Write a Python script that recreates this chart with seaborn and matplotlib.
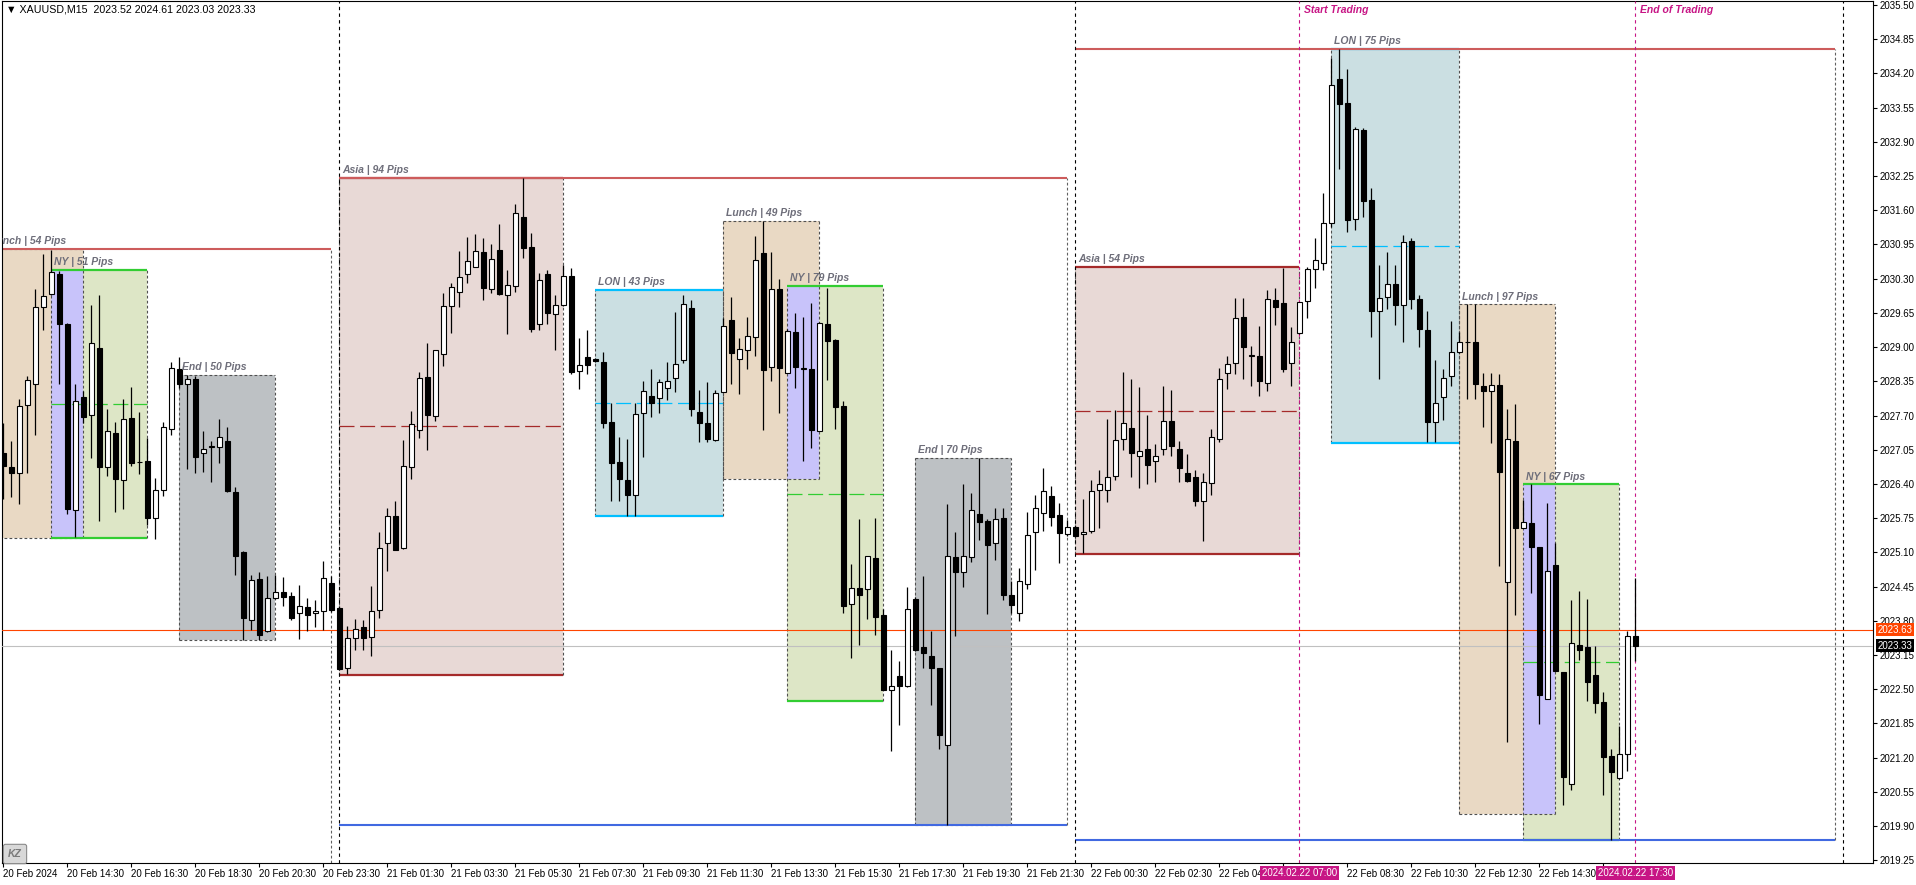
import numpy as np
import pandas as pd
import matplotlib
matplotlib.use('Agg')
import matplotlib.pyplot as plt
import matplotlib.transforms as mtransforms
from matplotlib.patches import Rectangle
import seaborn as sns

# M15 bars, gold has a daily break 22:00-23:00 server time
times = pd.date_range('2024-02-20 12:30', '2024-02-22 17:30', freq='15min')
times = times[times.hour != 22]

open_ = [
    2026.99, 2026.73, 2026.61, 2027.90, 2028.30, 2029.77, 2030.00, 2030.39, 2029.43, 2025.91,
    2028.05, 2027.71, 2028.99, 2026.72, 2027.36, 2026.48, 2027.65, 2026.81, 2026.84, 2025.76,
    2026.29, 2027.45, 2028.58, 2028.30, 2028.39, 2026.98, 2027.10, 2027.10, 2027.21, 2026.25,
    2025.11, 2023.81, 2024.59, 2023.60, 2024.23, 2024.35, 2024.27, 2023.94, 2024.06, 2023.94,
    2023.98, 2024.51, 2024.04, 2022.91, 2023.47, 2023.68, 2023.49, 2024.01, 2025.27, 2025.80,
    2025.18, 2026.73, 2027.43, 2028.44, 2027.70, 2028.87, 2029.78, 2030.05, 2030.39, 2030.53,
    2030.81, 2030.11, 2030.85, 2029.99, 2030.16, 2031.48, 2030.90, 2029.44, 2030.39, 2029.63,
    2029.80, 2030.35, 2028.54, 2028.81, 2028.78, 2028.72, 2027.57, 2026.81, 2026.48, 2026.19,
    2027.74, 2028.07, 2028.04, 2028.22, 2028.41, 2028.76, 2029.74, 2027.77, 2027.55, 2027.23,
    2028.15, 2029.51, 2028.78, 2028.94, 2029.20, 2030.78, 2028.63, 2030.11, 2028.51, 2029.28,
    2028.59, 2028.58, 2027.40, 2029.43, 2029.14, 2027.89, 2024.12, 2024.43, 2024.40, 2025.00,
    2023.91, 2022.49, 2022.75, 2022.56, 2024.21, 2023.31, 2023.14, 2022.90, 2021.44, 2025.02,
    2024.73, 2025.02, 2025.82, 2025.70, 2025.27, 2025.76, 2024.30, 2023.95, 2024.50, 2025.49,
    2025.84, 2026.17, 2025.81, 2025.44, 2025.58, 2025.44, 2025.51, 2026.29, 2026.29, 2026.56,
    2027.26, 2027.46, 2026.94, 2027.06, 2026.83, 2027.07, 2027.59, 2027.07, 2026.60, 2026.53,
    2026.07, 2026.41, 2027.26, 2028.50, 2028.69, 2029.57, 2028.84, 2028.83, 2028.31, 2029.89,
    2029.83, 2028.69, 2029.26, 2029.87, 2030.49, 2030.60, 2031.35, 2034.10, 2033.63, 2031.44,
    2033.12, 2031.79, 2029.69, 2029.95, 2030.20, 2029.79, 2031.02, 2029.91, 2029.32, 2027.58,
    2028.05, 2028.46, 2028.90, 2029.09, 2029.09, 2028.26, 2028.17, 2028.28, 2024.54, 2027.22,
    2025.57, 2025.65, 2025.20, 2022.32, 2024.87, 2022.82, 2020.71, 2023.35, 2023.31, 2022.77,
    2022.26, 2021.24, 2020.81, 2021.27, 2023.52,
]
high = [
    2027.55, 2027.22, 2028.02, 2028.46, 2030.11, 2030.76, 2030.85, 2030.45, 2029.45, 2028.29,
    2028.16, 2029.80, 2029.99, 2027.83, 2027.58, 2028.01, 2028.24, 2027.76, 2027.28, 2026.51,
    2027.57, 2028.71, 2028.82, 2028.47, 2028.46, 2027.40, 2027.21, 2027.63, 2027.49, 2026.35,
    2025.12, 2024.67, 2024.73, 2024.65, 2024.67, 2024.63, 2024.34, 2024.48, 2024.23, 2024.19,
    2024.93, 2024.66, 2024.09, 2023.70, 2023.83, 2023.82, 2024.46, 2025.48, 2025.95, 2026.07,
    2027.23, 2027.78, 2028.52, 2029.07, 2028.95, 2030.03, 2030.22, 2030.83, 2031.10, 2031.15,
    2031.08, 2030.96, 2031.34, 2030.47, 2031.71, 2032.21, 2031.17, 2030.41, 2030.47, 2029.99,
    2030.55, 2030.51, 2029.17, 2029.33, 2028.79, 2028.91, 2027.93, 2027.30, 2027.25, 2027.93,
    2028.35, 2028.58, 2028.39, 2028.72, 2029.67, 2029.99, 2029.90, 2028.18, 2028.34, 2028.18,
    2029.55, 2029.96, 2029.17, 2029.57, 2031.11, 2031.39, 2030.80, 2030.29, 2029.35, 2029.64,
    2029.57, 2029.84, 2029.47, 2030.13, 2029.15, 2027.97, 2024.88, 2025.74, 2025.04, 2025.75,
    2024.03, 2023.24, 2023.03, 2024.44, 2024.26, 2024.65, 2023.60, 2022.91, 2026.01, 2025.48,
    2026.39, 2026.23, 2026.89, 2025.73, 2025.94, 2025.95, 2024.55, 2024.80, 2025.87, 2026.19,
    2026.70, 2026.36, 2026.03, 2025.71, 2025.62, 2026.12, 2026.48, 2026.66, 2027.63, 2027.81,
    2028.52, 2028.40, 2028.24, 2027.71, 2027.16, 2028.26, 2028.18, 2027.21, 2026.96, 2026.66,
    2026.60, 2027.44, 2028.60, 2028.83, 2029.94, 2029.94, 2029.03, 2029.40, 2030.09, 2030.12,
    2030.50, 2029.38, 2029.86, 2030.52, 2031.07, 2031.93, 2034.49, 2034.66, 2034.29, 2033.19,
    2033.16, 2032.02, 2030.55, 2030.80, 2030.56, 2031.12, 2031.08, 2029.98, 2029.68, 2028.76,
    2028.58, 2029.50, 2029.28, 2029.81, 2029.81, 2028.51, 2028.51, 2028.49, 2027.82, 2027.92,
    2026.10, 2026.39, 2025.21, 2026.03, 2025.27, 2022.83, 2024.20, 2024.37, 2024.22, 2023.33,
    2022.44, 2021.37, 2021.80, 2023.60, 2024.61,
]
low = [
    2026.12, 2026.16, 2026.02, 2026.60, 2027.33, 2029.32, 2029.98, 2028.29, 2025.82, 2025.39,
    2027.55, 2026.90, 2025.70, 2026.56, 2025.87, 2025.92, 2026.75, 2026.58, 2025.62, 2025.36,
    2026.18, 2027.33, 2028.22, 2026.69, 2026.61, 2026.63, 2026.44, 2026.79, 2026.25, 2024.67,
    2023.43, 2023.63, 2023.43, 2023.58, 2024.21, 2024.08, 2023.81, 2023.45, 2023.60, 2023.68,
    2023.63, 2023.97, 2022.86, 2022.79, 2023.24, 2023.24, 2023.13, 2023.85, 2024.75, 2025.14,
    2025.16, 2026.50, 2027.28, 2027.04, 2027.59, 2028.65, 2029.26, 2029.76, 2030.21, 2030.52,
    2029.90, 2030.03, 2029.98, 2029.24, 2030.04, 2030.69, 2029.29, 2029.32, 2029.43, 2028.94,
    2029.78, 2028.49, 2028.20, 2028.48, 2028.71, 2027.46, 2026.07, 2026.07, 2025.80, 2025.80,
    2026.92, 2027.68, 2027.75, 2028.00, 2028.15, 2028.70, 2027.69, 2027.20, 2027.20, 2027.22,
    2028.14, 2028.29, 2028.11, 2028.58, 2028.84, 2027.43, 2028.35, 2027.75, 2028.50, 2028.22,
    2026.83, 2027.08, 2027.40, 2028.37, 2027.45, 2023.95, 2023.10, 2023.35, 2023.84, 2023.54,
    2022.48, 2021.33, 2021.82, 2022.55, 2023.23, 2022.90, 2022.21, 2021.37, 2019.92, 2023.51,
    2024.44, 2024.91, 2025.33, 2023.93, 2024.96, 2024.20, 2023.95, 2023.80, 2024.40, 2024.76,
    2025.51, 2025.60, 2024.89, 2025.42, 2025.39, 2025.09, 2025.47, 2025.57, 2026.06, 2026.48,
    2027.04, 2026.53, 2026.33, 2026.39, 2026.44, 2026.95, 2026.93, 2026.44, 2026.44, 2025.99,
    2025.32, 2026.19, 2027.19, 2028.21, 2028.49, 2028.40, 2028.26, 2028.07, 2028.17, 2029.42,
    2028.53, 2028.26, 2029.24, 2029.56, 2030.12, 2030.46, 2031.29, 2032.39, 2031.19, 2031.23,
    2031.47, 2029.19, 2028.40, 2029.72, 2029.42, 2029.10, 2029.72, 2029.00, 2027.19, 2027.19,
    2027.61, 2028.26, 2028.88, 2028.01, 2028.01, 2027.49, 2027.17, 2024.84, 2021.50, 2023.91,
    2025.56, 2024.33, 2021.84, 2022.31, 2022.84, 2020.31, 2020.59, 2023.05, 2022.27, 2022.04,
    2020.50, 2019.63, 2020.80, 2020.94, 2023.03,
]
close = [
    2026.75, 2026.60, 2027.89, 2028.37, 2029.77, 2029.97, 2030.42, 2029.43, 2025.93, 2027.97,
    2027.68, 2029.08, 2026.73, 2027.40, 2026.50, 2027.64, 2026.80, 2026.81, 2025.76, 2026.29,
    2027.49, 2028.61, 2028.30, 2028.40, 2026.92, 2027.07, 2027.10, 2027.30, 2026.26, 2025.03,
    2023.86, 2024.57, 2023.54, 2024.23, 2024.35, 2024.25, 2023.85, 2024.08, 2023.91, 2023.98,
    2024.61, 2024.00, 2022.89, 2023.47, 2023.65, 2023.47, 2023.99, 2025.18, 2025.80, 2025.15,
    2026.75, 2027.53, 2028.42, 2027.71, 2028.94, 2029.78, 2030.14, 2030.34, 2030.64, 2030.83,
    2030.12, 2030.68, 2030.01, 2030.18, 2031.54, 2030.89, 2029.34, 2030.28, 2029.65, 2029.80,
    2030.35, 2028.52, 2028.66, 2028.66, 2028.73, 2027.56, 2026.80, 2026.50, 2026.19, 2027.72,
    2028.17, 2027.93, 2028.34, 2028.35, 2028.68, 2029.82, 2027.83, 2027.56, 2027.25, 2028.13,
    2029.41, 2028.88, 2028.97, 2029.22, 2030.66, 2028.56, 2030.10, 2028.60, 2029.30, 2028.62,
    2028.59, 2027.42, 2029.45, 2029.12, 2027.86, 2024.08, 2024.42, 2024.30, 2025.03, 2023.87,
    2022.49, 2022.56, 2022.56, 2024.03, 2023.24, 2023.19, 2022.90, 2021.64, 2025.03, 2024.73,
    2025.03, 2025.90, 2025.67, 2025.24, 2025.73, 2024.29, 2024.10, 2024.55, 2025.43, 2025.95,
    2026.26, 2025.77, 2025.46, 2025.58, 2025.42, 2025.48, 2026.26, 2026.39, 2026.54, 2027.23,
    2027.55, 2026.99, 2027.03, 2026.76, 2026.94, 2027.59, 2027.12, 2026.71, 2026.46, 2026.08,
    2026.43, 2027.30, 2028.40, 2028.67, 2029.56, 2029.00, 2028.84, 2028.36, 2029.92, 2029.76,
    2028.59, 2029.09, 2029.85, 2030.49, 2030.66, 2031.35, 2033.97, 2033.61, 2031.41, 2033.14,
    2031.77, 2029.68, 2029.93, 2030.20, 2029.79, 2031.00, 2029.91, 2029.34, 2027.58, 2027.94,
    2028.41, 2028.91, 2029.09, 2029.09, 2028.30, 2028.17, 2028.28, 2026.62, 2027.25, 2025.57,
    2025.68, 2025.20, 2022.39, 2024.75, 2022.85, 2020.83, 2023.37, 2023.25, 2022.64, 2022.23,
    2021.21, 2020.92, 2021.27, 2023.52, 2023.33,
]

# session boxes
session_names = ['Lunch', 'NY', 'End', 'Asia', 'LON', 'Lunch', 'NY', 'End', 'Asia', 'LON', 'Lunch', 'NY']
session_start = ['2024-02-20 12:00', '2024-02-20 14:00', '2024-02-20 18:00', '2024-02-21 00:00',
                 '2024-02-21 08:00', '2024-02-21 12:00', '2024-02-21 14:00', '2024-02-21 18:00',
                 '2024-02-22 00:00', '2024-02-22 08:00', '2024-02-22 12:00', '2024-02-22 14:00']
session_end = ['2024-02-20 15:00', '2024-02-20 17:00', '2024-02-20 21:00', '2024-02-21 07:00',
               '2024-02-21 12:00', '2024-02-21 15:00', '2024-02-21 17:00', '2024-02-21 21:00',
               '2024-02-22 07:00', '2024-02-22 12:00', '2024-02-22 15:00', '2024-02-22 17:00']
session_high = [2030.87, 2030.47, 2028.47, 2032.22, 2030.09, 2031.39, 2030.16, 2026.89, 2030.52, 2034.66, 2029.81, 2026.39]
session_low = [2025.37, 2025.38, 2023.43, 2022.78, 2025.80, 2026.49, 2022.27, 2019.92, 2025.07, 2027.17, 2020.13, 2019.63]
session_pips = [54, 51, 50, 94, 43, 49, 79, 70, 54, 75, 97, 67]

# daily high / low levels
day_start = ['2024-02-20 00:00', '2024-02-21 00:00', '2024-02-22 00:00']
day_last = ['2024-02-20 23:45', '2024-02-21 23:45', '2024-02-22 23:45']
day_high = [2030.87, 2032.22, 2034.66]
day_low = [np.nan, 2019.92, 2019.63]
separators = ['2024-02-21 00:00', '2024-02-22 00:00', '2024-02-23 00:00']

trade_start = '2024-02-22 07:00'
trade_end = '2024-02-22 17:30'
level_line = 2023.63
bid = 2023.33
header = '\u25bc XAUUSD,M15  2023.52 2024.61 2023.03 2023.33'

sns.set_theme(style='white')
plt.rcParams['font.family'] = ['Liberation Sans', 'DejaVu Sans']
plt.rcParams['axes.edgecolor'] = 'black'
plt.rcParams['axes.linewidth'] = 0.8

STEP = pd.Timedelta('15min')


def bar_x(t):
    t = pd.Timestamp(t)
    if t < times[0]:
        return (t - times[0]) / STEP
    if t > times[-1]:
        return len(times) - 1 + (t - times[-1]) / STEP
    return times.get_loc(t)


styles = {
    'Asia': dict(fill='#e8d9d6', line='#a52a2a'),
    'LON': dict(fill='#cbdfe2', line='#00bfff'),
    'Lunch': dict(fill='#e9d9c4', line=None),
    'NY': dict(fill='#dde6c6', line='#32cd32'),
    'End': dict(fill='#bdc1c4', line=None),
}
EDGE = '#505050'
DASH = (0, (2.5, 2))

fig = plt.figure(figsize=(19.16, 8.85), dpi=100)
ax = fig.add_axes([2 / 1916, 22 / 885, 1871 / 1916, 862 / 885])
ax.set_xlim(-0.16, 233.7)
ax.set_ylim(2019.20, 2035.574)

# box fills
boxes = []
for name, s, e, hi, lo, p in zip(session_names, session_start, session_end,
                                 session_high, session_low, session_pips):
    x0, x1 = bar_x(s), bar_x(e)
    boxes.append((name, x0, x1, hi, lo, p, pd.Timestamp(s).date()))
    ax.add_patch(Rectangle((x0, lo), x1 - x0, hi - lo, facecolor=styles[name]['fill'],
                           edgecolor='none', zorder=1))

# Lunch / NY overlap
for name, x0, x1, hi, lo, p, d in boxes:
    if name != 'NY':
        continue
    for n2, a0, a1, h2, l2, p2, d2 in boxes:
        if n2 == 'Lunch' and d2 == d:
            ax.add_patch(Rectangle((x0, max(lo, l2)), a1 - x0, min(hi, h2) - max(lo, l2),
                                   facecolor='#c8c3fa', edgecolor='none', zorder=1.1))

trans_lbl = ax.transData + mtransforms.ScaledTranslation(2 / 72, 2 / 72, fig.dpi_scale_trans)
for name, x0, x1, hi, lo, p, d in boxes:
    line = styles[name]['line']
    ax.vlines([x0, x1], lo, hi, colors=EDGE, lw=0.8, linestyles=DASH, zorder=2)
    if line:
        ax.hlines([hi, lo], x0, x1, colors=line, lw=1.6, zorder=2.2)
        ax.hlines((hi + lo) / 2, x0, x1, colors=line, lw=0.9, linestyles=(0, (12, 4.5)), zorder=2)
    else:
        ax.hlines([hi, lo], x0, x1, colors=EDGE, lw=0.8, linestyles=DASH, zorder=2)
    ax.text(x0, hi, f'{name} | {p} Pips', transform=trans_lbl, fontsize=7.5,
            fontweight='bold', style='italic', color='#6e6e7a', ha='left', va='bottom',
            clip_on=True, zorder=6)

# day high / low
y_bottom = ax.get_ylim()[0]
for s, e, hi, lo in zip(day_start, day_last, day_high, day_low):
    xs, xe = bar_x(s), bar_x(e)
    ax.hlines(hi, xs, xe, colors='#cd5c5c', lw=1.5, zorder=2.5)
    if not np.isnan(lo):
        ax.hlines(lo, xs, xe, colors='#4169e1', lw=1.5, zorder=2.5)
    ax.vlines(xe, y_bottom if np.isnan(lo) else lo, hi, colors='#606060', lw=0.8,
              linestyles=DASH, zorder=2.5)

for t in separators:
    ax.axvline(bar_x(t), color='black', lw=0.8, ls=(0, (3, 3)), zorder=2.5)

trans_top = ax.transData + mtransforms.ScaledTranslation(3 / 72, -3 / 72, fig.dpi_scale_trans)
for t, lbl in [(trade_start, 'Start Trading'), (trade_end, 'End of Trading')]:
    xt = bar_x(t)
    ax.axvline(xt, color='#c71585', lw=0.8, ls=(0, (3, 3)), zorder=2.6)
    ax.text(xt, ax.get_ylim()[1], lbl, transform=trans_top, fontsize=7.5, fontweight='bold',
            style='italic', color='#c71585', ha='left', va='top', zorder=6)

ax.axhline(level_line, color='#ff4500', lw=0.8, zorder=2.8)
ax.axhline(bid, color='#c0c0c0', lw=0.8, zorder=2.8)

# candles
o = np.array(open_)
c = np.array(close)
x = np.arange(len(times))
bull = c >= o
ax.vlines(x, low, high, colors='black', lw=0.9, zorder=3)
ax.bar(x, np.maximum(np.abs(c - o), 0.015), bottom=np.minimum(o, c), width=0.62,
       color=np.where(bull, 'white', 'black'), edgecolor='black', linewidth=0.8, zorder=4)

# axes / ticks
ax.yaxis.tick_right()
yt = np.round(np.arange(2019.25, 2035.51, 0.65), 2)
ax.set_yticks(yt)
ax.set_yticklabels([f'{v:.2f}' for v in yt])
ax.tick_params(axis='y', direction='out', length=3, width=0.8, labelsize=7, pad=2,
               colors='black', right=True, left=False)

# time labels hidden under the highlighted trading-time tags are left blank
hl_x = [bar_x(trade_start), bar_x(trade_end)]
tick_idx = list(range(0, len(times), 8))
tick_lbl = []
for i in tick_idx:
    if any(abs(i - h) < 5 for h in hl_x):
        tick_lbl.append('')
    elif i == 0:
        tick_lbl.append(times[i].strftime('%d %b %Y'))
    else:
        tick_lbl.append(times[i].strftime('%d %b %H:%M'))
ax.set_xticks(tick_idx)
ax.set_xticklabels(tick_lbl, ha='left')
ax.tick_params(axis='x', direction='out', length=3, width=0.8, labelsize=7, pad=1,
               colors='black', bottom=True)
for sp in ax.spines.values():
    sp.set_visible(True)
    sp.set_color('black')
    sp.set_linewidth(0.8)

# price tags on the right scale
for val, bg in [(level_line, '#ff4500'), (bid, 'black')]:
    ax.annotate(f'{val:.2f}', xy=(1, val), xycoords=('axes fraction', 'data'), xytext=(3, 0),
                textcoords='offset points', ha='left', va='center', fontsize=7, color='white',
                bbox=dict(boxstyle='square,pad=0.15', fc=bg, ec='none'),
                annotation_clip=False, zorder=10)

# highlighted time labels
for t in [trade_start, trade_end]:
    ax.annotate(pd.Timestamp(t).strftime('%Y.%m.%d %H:%M'), xy=(bar_x(t), 0),
                xycoords=('data', 'axes fraction'), xytext=(0, -7), textcoords='offset points',
                ha='center', va='center', fontsize=7, color='white',
                bbox=dict(boxstyle='square,pad=0.2', fc='#c71585', ec='none'),
                annotation_clip=False, zorder=10)

fig.text(6 / 1916, 1 - 9 / 885, header, fontsize=7.7, ha='left', va='center', color='black')
fig.text(15 / 1916, 1 - 854 / 885, 'KZ', fontsize=7.5, fontweight='bold', style='italic',
         color='#7a7a7a', ha='center', va='center',
         bbox=dict(boxstyle='round,pad=0.45,rounding_size=0.2', fc='#d8d8d8', ec='#8a8a8a', lw=0.8))

fig.savefig('out.png', dpi=100)
